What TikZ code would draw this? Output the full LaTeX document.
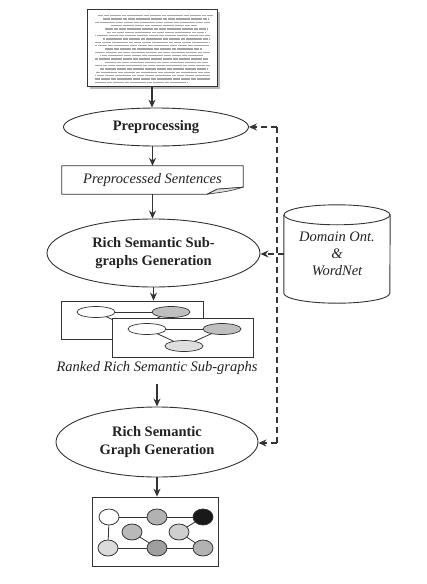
\documentclass[tikz,border=0pt]{standalone}
\usepackage{fontspec}
\setmainfont{Liberation Serif}
\usetikzlibrary{shapes.geometric,arrows.meta,calc}
\definecolor{ln}{HTML}{333333}
\definecolor{tx}{HTML}{222222}
\begin{document}
\begin{tikzpicture}[x=1pt,y=-1pt,
  ell/.style={ellipse,draw=ln,line width=0.9pt,inner sep=0pt,fill=white,
    font=\fontsize{14.5}{17.5}\selectfont\bfseries,text=tx,align=center},
  arr/.style={draw=ln,line width=1.2pt,-{Stealth[length=8pt,width=7pt]}},
  darr/.style={arr,dash pattern=on 6pt off 4pt},
  itx/.style={font=\fontsize{14.5}{17}\selectfont\itshape,text=tx,align=center,inner sep=0pt},
  gbox/.style={draw=ln,line width=0.8pt,fill=white,inner sep=0pt},
  sn/.style={ellipse,draw=ln,line width=0.7pt,inner sep=0pt,minimum width=38,minimum height=11},
  fn/.style={ellipse,draw=ln,line width=0.8pt,inner sep=0pt,minimum width=20,minimum height=16},
  ed/.style={draw=ln,line width=0.8pt},
  txtline/.style={draw=gray!70,line width=1.1pt,dash pattern=on 9pt off 0.8pt on 5pt off 0.8pt on 11pt off 0.8pt on 4pt off 0.8pt on 7pt off 0.8pt}
]
\path[use as bounding box] (0,0) rectangle (427,584);

% source document
\fill[gray!55] (90,12) rectangle (220,89);
\node[gbox,minimum width=130,minimum height=77] (doc) at (152,47.5) {};
\foreach \y/\a/\b [count=\i] in {15.7/98/213,19/103/208,22.4/95/210,25.7/110/197,29/105/207,32.4/107/205,35.7/95/210,39/103/210,42.4/95/210,45.7/95/210,49/105/202,52.4/95/210,55.7/100/203,59/95/208,62.4/105/208,65.7/95/210,69/100/207,72.4/95/210,75.7/95/210,79/95/210,82.4/95/188}
  \draw[txtline,dash phase=\i*3.7pt] (\a,\y) -- (\b,\y);

% preprocessing
\node[ell,minimum width=185,minimum height=38] (pre) at (156,127) {Preprocessing};

% preprocessed sentences
\node[itx,minimum width=181,minimum height=28] (ps) at (152.5,180) {Preprocessed Sentences};
\draw[ln,line width=0.8pt] (ps.north west) -- (ps.north east) -- ($(ps.south east)+(0,-7)$)
  -- ($(ps.south east)+(-26,-5)$) -- ($(ps.south east)+(-36,0)$) -- (ps.south west) -- cycle;
\filldraw[draw=ln,fill=gray!25,line width=0.6pt] ($(ps.south east)+(-36,0)$) -- ($(ps.south east)+(-26,-5)$)
  -- ($(ps.south east)+(0,-7)$) .. controls ($(ps.south east)+(-14,-3)$) .. ($(ps.south east)+(-36,0)$);

% sub-graph generation
\node[ell,minimum width=213,minimum height=68] (sub) at (153.5,253) {Rich Semantic Sub-\\graphs Generation};

% database
\node[itx,minimum width=106,minimum height=98] (db) at (337,254) {Domain Ont.\\\&\\WordNet};
\draw[ln,line width=0.9pt] ([yshift=-10pt]db.north west) -- ([yshift=10pt]db.south west)
  arc[start angle=180,end angle=360,x radius=53pt,y radius=10pt] -- ([yshift=-10pt]db.north east);
\draw[ln,line width=0.9pt] ([yshift=-10pt]db.north) ellipse[x radius=53pt,y radius=10pt];

% ranked sub-graphs
\node[gbox,minimum width=142,minimum height=38] (r1) at (132,320) {};
\node[sn,fill=white] (w1) at (96,312) {};
\node[sn,fill=gray!50] (g1) at (171,312) {};
\node[sn,fill=gray!25] (l1) at (133,329) {};
\draw[ed] (w1) -- (g1); \draw[ed] (w1) -- (l1); \draw[ed] (g1) -- (l1);
\node[gbox,minimum width=141,minimum height=39] (r2) at (182.5,337.5) {};
\node[sn,fill=white] (w2) at (147,329) {};
\node[sn,fill=gray!50] (g2) at (222,329) {};
\node[sn,fill=gray!25] (l2) at (184,346) {};
\draw[ed] (w2) -- (g2); \draw[ed] (w2) -- (l2); \draw[ed] (g2) -- (l2);
\node[itx] (rl) at (157,368) {Ranked Rich Semantic Sub-graphs};

% graph generation
\node[ell,minimum width=202,minimum height=70] (gen) at (157,442) {Rich Semantic\\Graph Generation};

% final graph
\node[gbox,minimum width=126,minimum height=69] (fb) at (155,531.5) {};
\node[fn,fill=white] (a) at (109,517) {};
\node[fn,fill=gray!60] (b) at (157,517) {};
\node[fn,fill=black!90] (c) at (203,517) {};
\node[fn,fill=gray!55] (d) at (132,532) {};
\node[fn,fill=gray!38] (e) at (179,532) {};
\node[fn,fill=gray!28] (f) at (108,548) {};
\node[fn,fill=gray!75] (g) at (157,548) {};
\node[fn,fill=gray!60] (h) at (203,548) {};
\draw[ed] (a) -- (b); \draw[ed] (b) -- (c); \draw[ed] (a) -- (f);
\draw[ed] (f) -- (g); \draw[ed] (g) -- (h); \draw[ed] (d) -- (g);
\draw[ed] (e) -- (c); \draw[ed] (e) -- (h);

% main flow arrows
\draw[arr] (doc.south) -- (doc.south |- pre.north);
\draw[arr] (pre.south -| ps.north) -- (ps.north);
\draw[arr] (ps.south) -- (ps.south |- sub.north);
\draw[arr] (sub.south) -- (sub.south |- r1.north);
\draw[arr] ([yshift=-9pt]rl.south -| gen.north) -- (gen.north);
\draw[arr] (gen.south) -- (gen.south |- fb.north);

% dashed feedback
\coordinate (dt) at (277,127);
\coordinate (dbt) at (277,443);
\draw[ln,line width=1.2pt,dash pattern=on 6pt off 4pt] (dt) -- (dbt);
\draw[darr] (dt) -- (pre.east);
\draw[darr] (db.west) -- (db.west -| sub.east);
\draw[darr] (dbt) -- (dbt -| gen.east);
\end{tikzpicture}
\end{document}
